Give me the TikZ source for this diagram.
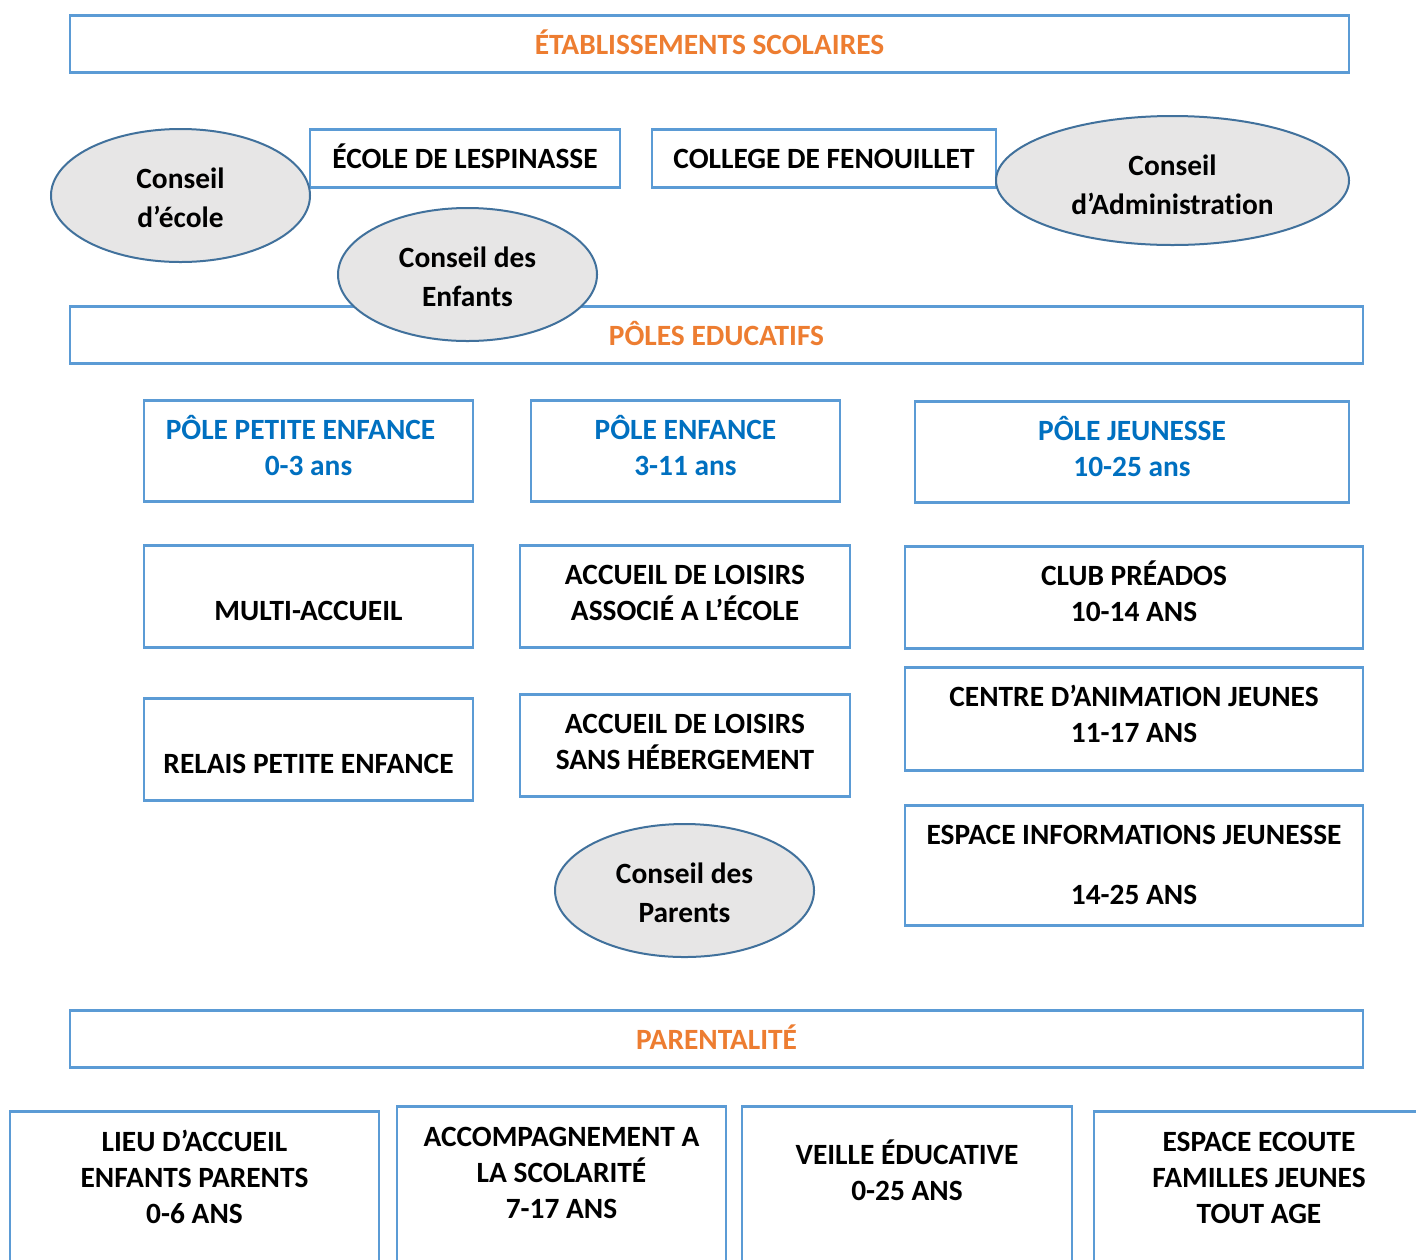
\documentclass[tikz,border=0pt]{standalone}
\usepackage{fontspec}
\setmainfont{Carlito}[Ligatures=NoCommon]
\usetikzlibrary{shapes.geometric}

\definecolor{boxblue}{HTML}{5B9BD5}
\definecolor{rimblue}{HTML}{41719C}
\definecolor{ovalgray}{HTML}{E7E6E6}
\definecolor{titleorange}{HTML}{ED7D31}
\definecolor{poleblue}{HTML}{0070C0}

\newcommand{\lines}[1]{\begin{tabular}[t]{@{}c@{}}#1\end{tabular}}

\tikzset{
  box/.style={draw=boxblue, line width=1.3pt, fill=white, inner sep=0pt,
    anchor=north, text height=19.7pt, text depth=31.3pt,
    font=\bfseries\fontsize{14.7}{18}\selectfont},
  bandbox/.style={box, minimum width=646.5pt, text depth=8.8pt, text=titleorange},
  polebox/.style={box, minimum width=164.5pt, text depth=30.8pt, text=poleblue},
  openbox/.style={box, minimum width=165pt, text height=20.2pt, text depth=100pt},
  oval/.style={ellipse, draw=rimblue, line width=1pt, fill=ovalgray, inner sep=0pt,
    text height=12pt, text depth=19.5pt, font=\bfseries\fontsize{14.7}{19.5}\selectfont,
    minimum width=129.5pt, minimum height=66.5pt}
}

\begin{document}
\begin{tikzpicture}[x=0.5pt, y=-0.5pt]
  \useasboundingbox (0,0) rectangle (1416,1259);
  \clip (0,0) rectangle (1416,1259);

  % etablissements scolaires
  \node[bandbox, minimum width=639.5pt] (etab) at (709.5,14) {\lines{ÉTABLISSEMENTS SCOLAIRES}};
  \node[box, minimum width=155pt, text depth=9.3pt] (ecole) at (465,128) {\lines{ÉCOLE DE LESPINASSE}};
  \node[box, minimum width=172pt, text depth=9.3pt] (college) at (824,128) {\lines{COLLEGE DE FENOUILLET}};

  % poles educatifs
  \node[bandbox] (poles) at (716.5,305) {\lines{PÔLES EDUCATIFS}};
  \node[polebox] (petite) at (308.5,399) {\lines{PÔLE PETITE ENFANCE\kern8pt\\0-3 ans}};
  \node[polebox, minimum width=154.5pt] (enfance) at (685.5,399) {\lines{PÔLE ENFANCE\\3-11 ans}};
  \node[polebox, minimum width=217pt] (jeunesse) at (1132,400) {\lines{PÔLE JEUNESSE\\10-25 ans}};

  \node[box, minimum width=164.5pt] (multi) at (308.5,544) {\lines{\\MULTI-ACCUEIL}};
  \node[box, minimum width=164.5pt] (relais) at (308.5,697) {\lines{\\RELAIS PETITE ENFANCE}};
  \node[box, minimum width=165pt] (alae) at (685,544) {\lines{ACCUEIL DE LOISIRS\\ASSOCIÉ A L’ÉCOLE}};
  \node[box, minimum width=165pt] (alsh) at (685,693) {\lines{ACCUEIL DE LOISIRS\\SANS HÉBERGEMENT}};
  \node[box, minimum width=229pt] (club) at (1134,545) {\lines{CLUB PRÉADOS\\10-14 ANS}};
  \node[box, minimum width=229pt, text depth=31.8pt] (caj) at (1134,666) {\lines{CENTRE D’ANIMATION JEUNES\\11-17 ANS}};
  \node[box, minimum width=229pt, text depth=40.3pt] (pij) at (1134,804) {\lines{ESPACE INFORMATIONS JEUNESSE\\[12pt]14-25 ANS}};

  % parentalite
  \node[bandbox] (parent) at (716.5,1009) {\lines{PARENTALITÉ}};
  \node[openbox, minimum width=184.5pt] (laep) at (194.5,1110) {\lines{LIEU D’ACCUEIL\\ENFANTS PARENTS\\0-6 ANS}};
  \node[openbox, minimum width=164.5pt] (clas) at (561.5,1105) {\lines{ACCOMPAGNEMENT A\\LA SCOLARITÉ\\7-17 ANS}};
  \node[openbox, text height=29.2pt] (veille) at (907,1105) {\lines{VEILLE ÉDUCATIVE\\0-25 ANS}};
  \node[openbox] (ecoute) at (1259,1110) {\lines{ESPACE ECOUTE\\FAMILLES JEUNES\\TOUT AGE}};

  % conseils
  \node[oval] (cecole) at (180.5,195.5) {\lines{Conseil\\d’école}};
  \node[oval, minimum width=176.5pt, minimum height=64.5pt, text depth=17pt] (cadmin) at (1172.5,180.5) {\lines{Conseil\\d’Administration}};
  \node[oval] (cenfants) at (467.5,274.5) {\lines{Conseil des\\Enfants}};
  \node[oval] (cparents) at (684.5,890.5) {\lines{Conseil des\\Parents}};
\end{tikzpicture}
\end{document}
